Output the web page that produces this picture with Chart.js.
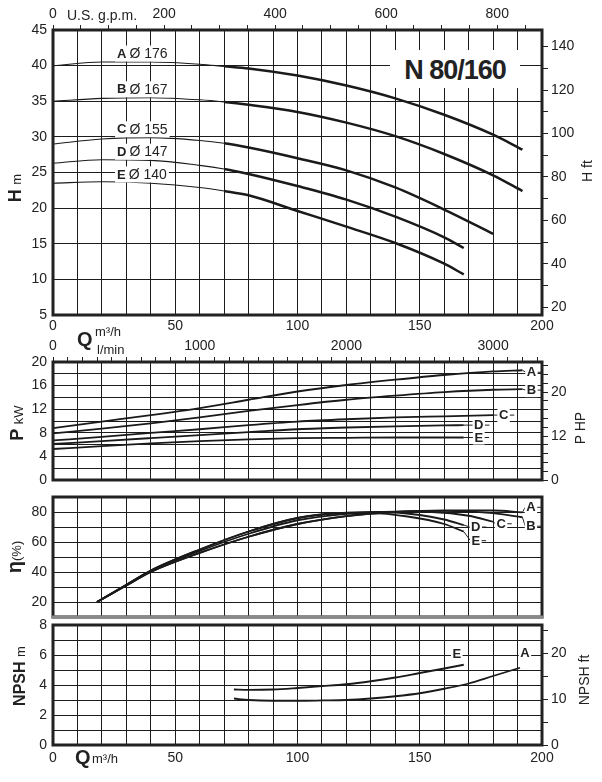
<!DOCTYPE html>
<html><head><meta charset="utf-8">
<script src="https://cdn.jsdelivr.net/npm/chart.js@4.4.1/dist/chart.umd.min.js"></script>
<style>
html,body{margin:0;padding:0;background:#fff;}
body{width:602px;height:782px;position:relative;overflow:hidden;font-family:"Liberation Sans",Arial,Helvetica,sans-serif;color:#222;}
.pane{position:absolute;left:0;width:602px;}
.pane canvas{display:block}
.txt{position:absolute;white-space:nowrap;line-height:1;transform:translateY(-50%);}
.rot{position:absolute;white-space:nowrap;line-height:1;transform:translate(-50%,-50%) rotate(-90deg);}
</style></head><body>
<div class="pane" style="top:0;height:338px"><canvas id="cH"></canvas></div>
<div class="pane" style="top:338px;height:152px"><canvas id="cP"></canvas></div>
<div class="pane" style="top:490px;height:131px"><canvas id="cE"></canvas></div>
<div class="pane" style="top:611px;height:171px"><canvas id="cN"></canvas></div>

<div class="txt" style="left:67px;top:15px;font-size:14px">U.S. g.p.m.</div>
<div style="position:absolute;left:390px;top:50px;width:130px;height:38px;background:#fff;font-size:27px;font-weight:bold;letter-spacing:-1px;text-align:center;line-height:40px">N 80/160</div>
<div class="txt" style="left:77px;top:339px;font-size:20px;font-weight:bold">Q</div>
<div class="txt" style="left:95px;top:331px;font-size:13px">m³/h</div>
<div class="txt" style="left:97px;top:349px;font-size:13px">l/min</div>
<div class="txt" style="left:75px;top:757px;font-size:20px;font-weight:bold">Q</div>
<div class="txt" style="left:92px;top:758px;font-size:13px">m³/h</div>

<div class="rot" style="left:15px;top:188px"><b style="font-size:18px">H</b> <span style="font-size:13px">m</span></div>
<div class="rot" style="left:17px;top:423px"><b style="font-size:18px">P</b> <span style="font-size:13px">kW</span></div>
<div class="rot" style="left:14px;top:557px"><b style="font-size:20px">η</b><span style="font-size:13px">(%)</span></div>
<div class="rot" style="left:20px;top:676px"><b style="font-size:16px">NPSH</b> <span style="font-size:13px">m</span></div>
<div class="rot" style="left:587px;top:171px;font-size:14px">H ft</div>
<div class="rot" style="left:580px;top:428px;font-size:14px">P HP</div>
<div class="rot" style="left:584px;top:680px;font-size:14px">NPSH ft</div>

<script>
// ---------- data ----------
const curveKeys = ['A','B','C','D','E'];
const impellerDia = [176,167,155,147,140];

// Head H (m) vs Q (m3/h)
const qHA = [0,20,40,60,70,80,100,120,140,160,180,192];
const headA = [40.0,40.5,40.5,40.2,39.9,39.6,38.6,37.2,35.4,33.1,30.3,28.2];
const qHB = [0,20,40,60,70,80,100,120,140,160,180,192];
const headB = [35.0,35.4,35.5,35.2,34.9,34.5,33.5,32.0,30.1,27.6,24.6,22.4];
const qHC = [0,20,40,60,70,80,100,120,140,160,180];
const headC = [29.0,29.7,29.9,29.5,29.1,28.5,27.0,25.3,22.9,19.8,16.4];
const qHD = [0,20,40,60,70,80,100,120,140,160,168];
const headD = [26.3,26.8,26.7,26.0,25.5,24.8,23.1,21.2,18.8,15.9,14.4];
const qHE = [0,20,40,60,70,80,100,120,140,160,168];
const headE = [23.5,23.7,23.5,22.9,22.4,21.8,19.6,17.4,15.1,12.2,10.7];

// Power P (kW)
const qPA = [0,20,40,60,80,100,120,140,160,180,192];
const powA = [8.8,9.9,11.0,12.2,13.6,15.0,16.1,17.0,17.8,18.4,18.6];
const qPB = [0,20,40,60,80,100,120,140,160,180,192];
const powB = [7.9,8.7,9.6,10.6,11.7,12.7,13.6,14.3,14.9,15.3,15.4];
const qPC = [0,20,40,60,80,100,120,140,160,180];
const powC = [6.7,7.3,8.0,8.6,9.3,9.9,10.3,10.6,10.8,11.0];
const qPD = [0,20,40,60,80,100,120,140,160,168];
const powD = [6.1,6.6,7.1,7.6,8.1,8.6,8.9,9.1,9.25,9.3];
const qPE = [0,20,40,60,80,100,120,140,160,168];
const powE = [5.25,5.75,6.2,6.6,6.9,7.1,7.15,7.2,7.2,7.2];

// Efficiency (%)
const qEA = [18,30,40,60,80,100,120,140,160,180,192];
const effA = [20,31,40,52.7,63.5,72,77.3,80,81,81,79.8];
const qEB = [18,30,40,60,80,100,120,140,160,180,192];
const effB = [20,31,40,52.7,63.5,72,77.3,80,80.7,79.2,76.5];
const qEC = [18,30,40,60,80,100,120,140,155,170,180];
const effC = [20,31.3,40.7,54,65.5,74.5,78.8,80.3,80,77.5,73.5];
const qED = [18,30,40,60,80,100,120,135,150,160,168];
const effD = [20,31.5,41,55,67,76,79.5,80,78,75,71.3];
const qEE = [18,30,40,60,80,100,115,130,145,160,168];
const effE = [20,31.5,41,55,67,76,79,79.3,77,72,66.9];

// NPSH (m)
const qNA = [74,80,90,100,110,120,130,140,150,160,170,180,191];
const npshA = [3.1,3.0,2.95,2.95,2.97,3.0,3.1,3.25,3.45,3.75,4.1,4.6,5.15];
const qNE = [74,80,90,100,110,120,130,140,150,160,168];
const npshE = [3.7,3.67,3.7,3.8,3.92,4.05,4.25,4.5,4.8,5.1,5.35];

// tick labels
const qLabels = [0,50,100,150,200];
const gpmLabels = [0,200,400,600,800];
const lpmLabels = [0,1000,2000,3000];
const hLabels = [5,10,15,20,25,30,35,40,45];
const hftLabels = [20,40,60,80,100,120,140];
const pLabels = [0,4,8,12,16,20];
const hpLabelVals = [0,10,20];
const hpLabelText = ['0','12','20'];
const effLabels = [20,40,60,80];
const npshLabels = [0,2,4,6,8];
const npshFtLabels = [0,10,20];

// unit conversions
const FT = 3.28084, GPM = 4.40287, LPM = 1000/60, HP = 1/0.7457;

// ---------- helpers ----------
Chart.defaults.font.family = '"Liberation Sans", Arial, Helvetica, sans-serif';
Chart.defaults.font.size = 14;
Chart.defaults.color = '#222';
Chart.defaults.animation = false;
const FONT = '"Liberation Sans", Arial, sans-serif';
const GRID = '#1c1c1c';
const range = (a,b,s) => { const r=[]; for (let v=a; v<=b+1e-9; v+=s) r.push(Math.round(v*1000)/1000); return r; };
const pts = (q,v) => q.map((x,i)=>({x, y:v[i]}));
const noPad = s => { s.paddingTop = 0; s.paddingBottom = 0; s.paddingLeft = 0; s.paddingRight = 0; };

function series(q, v, w, seg) {
  const d = {data: pts(q,v), xAxisID:'x', yAxisID:'y', borderColor:'#1a1a1a', borderWidth:w,
    pointRadius:0, fill:false, tension:0.4, cubicInterpolationMode:'monotone'};
  if (seg) d.segment = {borderWidth: c => c.p0.parsed.x >= 70 ? 2.5 : 1.1};
  return d;
}
function xBottom(h, show, pad) {
  return {type:'linear', axis:'x', position:'bottom', min:0, max:200,
    afterBuildTicks: s => { s.ticks = range(0,200,10).map(v=>({value:v})); },
    ticks:{display:show, autoSkip:false, maxRotation:0, padding:pad||3, callback: v => qLabels.includes(v) ? String(v) : ''},
    grid:{color:GRID, lineWidth:1, drawTicks:false}, border:{display:false},
    afterFit: s => { s.height = h; noPad(s); }};
}
function xTop(max, step, labels, h) {
  return {type:'linear', axis:'x', position:'top', min:0, max:max,
    afterBuildTicks: s => { s.ticks = range(0,max,step).map(v=>({value:v})); },
    ticks:{autoSkip:false, maxRotation:0, padding:2, callback: v => labels.includes(v) ? String(v) : ''},
    grid:{drawOnChartArea:false, drawTicks:true, tickLength:5, color:'#222', lineWidth:1}, border:{display:false},
    afterFit: s => { s.height = h; noPad(s); }};
}
function yLeft(min, max, step, labels) {
  return {type:'linear', axis:'y', position:'left', min, max,
    afterBuildTicks: s => { s.ticks = range(min,max,step).map(v=>({value:v})); },
    ticks:{autoSkip:false, padding:6, callback: v => labels.includes(v) ? String(v) : ''},
    grid:{color:GRID, lineWidth:1, drawTicks:false}, border:{display:false},
    afterFit: s => { s.width = 53; noPad(s); }};
}
function yRight(min, max, tickVals, labelFn) {
  return {type:'linear', axis:'y', position:'right', min, max,
    afterBuildTicks: s => { s.ticks = tickVals.map(v=>({value:v})); },
    ticks:{autoSkip:false, padding:3, callback: labelFn},
    grid:{drawOnChartArea:false, drawTicks:true, tickLength:6, color:'#222', lineWidth:1}, border:{display:false},
    afterFit: s => { s.width = 60; noPad(s); }};
}
function curveYAt(chart, ds, px) {
  const p = chart.getDatasetMeta(ds).data;
  for (let i=1;i<p.length;i++) if (p[i].x >= px) { const a=p[i-1], b=p[i]; const t=(px-a.x)/(b.x-a.x); return a.y+t*(b.y-a.y); }
  return p[p.length-1].y;
}

const deco = {
  id:'deco',
  afterDatasetsDraw(chart, args, o) {
    const ctx = chart.ctx, a = chart.chartArea;
    ctx.save();
    ctx.lineWidth = 3; ctx.strokeStyle = '#222';
    ctx.strokeRect(a.left, a.top, a.right-a.left, a.bottom-a.top);
    if (o.bottomColor) {
      ctx.strokeStyle = o.bottomColor; ctx.beginPath();
      ctx.moveTo(a.left-1.5, a.bottom); ctx.lineTo(a.right+1.5, a.bottom); ctx.stroke();
    }
    ctx.textBaseline = 'middle';
    (o.endLabels || []).forEach(l => {
      const p = chart.getDatasetMeta(l.ds).data.at(-1);
      const cx = p.x + l.dx, cy = p.y + l.dy;
      ctx.font = 'bold 13px ' + FONT;
      const w = ctx.measureText(l.text).width;
      if (l.lead !== false) {
        ctx.lineWidth = 1; ctx.strokeStyle = '#222'; ctx.beginPath();
        ctx.moveTo(p.x, p.y); ctx.lineTo(cx - w/2 - 1, cy);
        ctx.moveTo(cx + w/2 + 1, cy); ctx.lineTo(cx + w/2 + 6, cy); ctx.stroke();
      }
      ctx.fillStyle = '#fff'; ctx.fillRect(cx - w/2 - 1.5, cy - 7, w + 3, 14);
      ctx.fillStyle = '#222'; ctx.textAlign = 'center'; ctx.fillText(l.text, cx, cy + 0.5);
    });
    if (o.tags) {
      const left = chart.scales.x.getPixelForValue(o.tags.q);
      curveKeys.forEach((k, i) => {
        ctx.font = 'bold 13px ' + FONT; const w1 = ctx.measureText(k).width;
        const t2 = 'Ø ' + impellerDia[i];
        ctx.font = '14px ' + FONT; const w2 = ctx.measureText(t2).width;
        const w = w1 + 3 + w2;
        const cy = curveYAt(chart, i, left + w/2) - o.tags.dy;
        ctx.fillStyle = '#fff'; ctx.fillRect(left - 2, cy - 8, w + 4, 16);
        ctx.fillStyle = '#222'; ctx.textAlign = 'left';
        ctx.font = 'bold 13px ' + FONT; ctx.fillText(k, left, cy + 0.5);
        ctx.font = '14px ' + FONT; ctx.fillText(t2, left + w1 + 3, cy + 0.5);
      });
    }
    ctx.restore();
  }
};
const base = (extra) => Object.assign({responsive:true, maintainAspectRatio:false, animation:false,
  events:[], plugins:{legend:{display:false}, tooltip:{enabled:false}}}, extra);

// ---------- H chart ----------
new Chart(document.getElementById('cH'), {
  type:'line',
  data:{datasets:[series(qHA,headA,2.5,true), series(qHB,headB,2.5,true), series(qHC,headC,2.5,true),
                  series(qHD,headD,2.5,true), series(qHE,headE,2.5,true)]},
  options: base({layout:{padding:0},
    plugins:{legend:{display:false}, tooltip:{enabled:false}, deco:{tags:{q:26.2, dy:8.5}}},
    scales:{
      x: xBottom(23, true, 3),
      xt: xTop(200*GPM, 50, gpmLabels, 30),
      y: yLeft(5, 45, 5, hLabels),
      yr: yRight(5*FT, 45*FT, range(20,140,10), v => hftLabels.includes(v) ? String(v) : '')
    }}),
  plugins:[deco]
});

// ---------- P chart ----------
new Chart(document.getElementById('cP'), {
  type:'line',
  data:{datasets:[series(qPA,powA,1.8), series(qPB,powB,1.8), series(qPC,powC,1.8), series(qPD,powD,1.8), series(qPE,powE,1.8)]},
  options: base({layout:{padding:0},
    plugins:{legend:{display:false}, tooltip:{enabled:false}, deco:{endLabels:[
      {ds:0,text:'A',dx:9,dy:2},{ds:1,text:'B',dx:9,dy:1},{ds:2,text:'C',dx:10.5,dy:0},
      {ds:3,text:'D',dx:15,dy:0},{ds:4,text:'E',dx:15,dy:0}]}},
    scales:{
      x: xBottom(10, false),
      xt: xTop(200*LPM, 100, lpmLabels, 24),
      y: yLeft(0, 20, 2, pLabels),
      yr: yRight(0, 20*HP, range(0,26,2), v => { const i = hpLabelVals.indexOf(v); return i >= 0 ? hpLabelText[i] : ''; })
    }}),
  plugins:[deco]
});

// ---------- Efficiency chart ----------
new Chart(document.getElementById('cE'), {
  type:'line',
  data:{datasets:[series(qEA,effA,1.8), series(qEB,effB,1.8), series(qEC,effC,1.8), series(qED,effD,1.8), series(qEE,effE,1.8)]},
  options: base({layout:{padding:{top:7, right:60, left:0, bottom:0}},
    plugins:{legend:{display:false}, tooltip:{enabled:false}, deco:{bottomColor:'#8a8a8a', endLabels:[
      {ds:0,text:'A',dx:8.5,dy:-5},{ds:1,text:'B',dx:8.5,dy:9},{ds:2,text:'C',dx:8,dy:2},
      {ds:3,text:'D',dx:12,dy:2},{ds:4,text:'E',dx:12,dy:9}]}},
    scales:{
      x: xBottom(4, false),
      y: yLeft(10, 90, 10, effLabels)
    }}),
  plugins:[deco]
});

// ---------- NPSH chart ----------
new Chart(document.getElementById('cN'), {
  type:'line',
  data:{datasets:[series(qNA,npshA,1.8), series(qNE,npshE,1.8)]},
  options: base({layout:{padding:{top:14, left:0, right:0, bottom:0}},
    plugins:{legend:{display:false}, tooltip:{enabled:false}, deco:{endLabels:[
      {ds:0,text:'A',dx:5,dy:-15,lead:false},{ds:1,text:'E',dx:-7,dy:-11,lead:false}]}},
    scales:{
      x: xBottom(37, true, 5),
      y: yLeft(0, 8, 1, npshLabels),
      yr: yRight(0, 8*FT, range(0,25,5), v => npshFtLabels.includes(v) ? String(v) : '')
    }}),
  plugins:[deco]
});
</script>
</body></html>
